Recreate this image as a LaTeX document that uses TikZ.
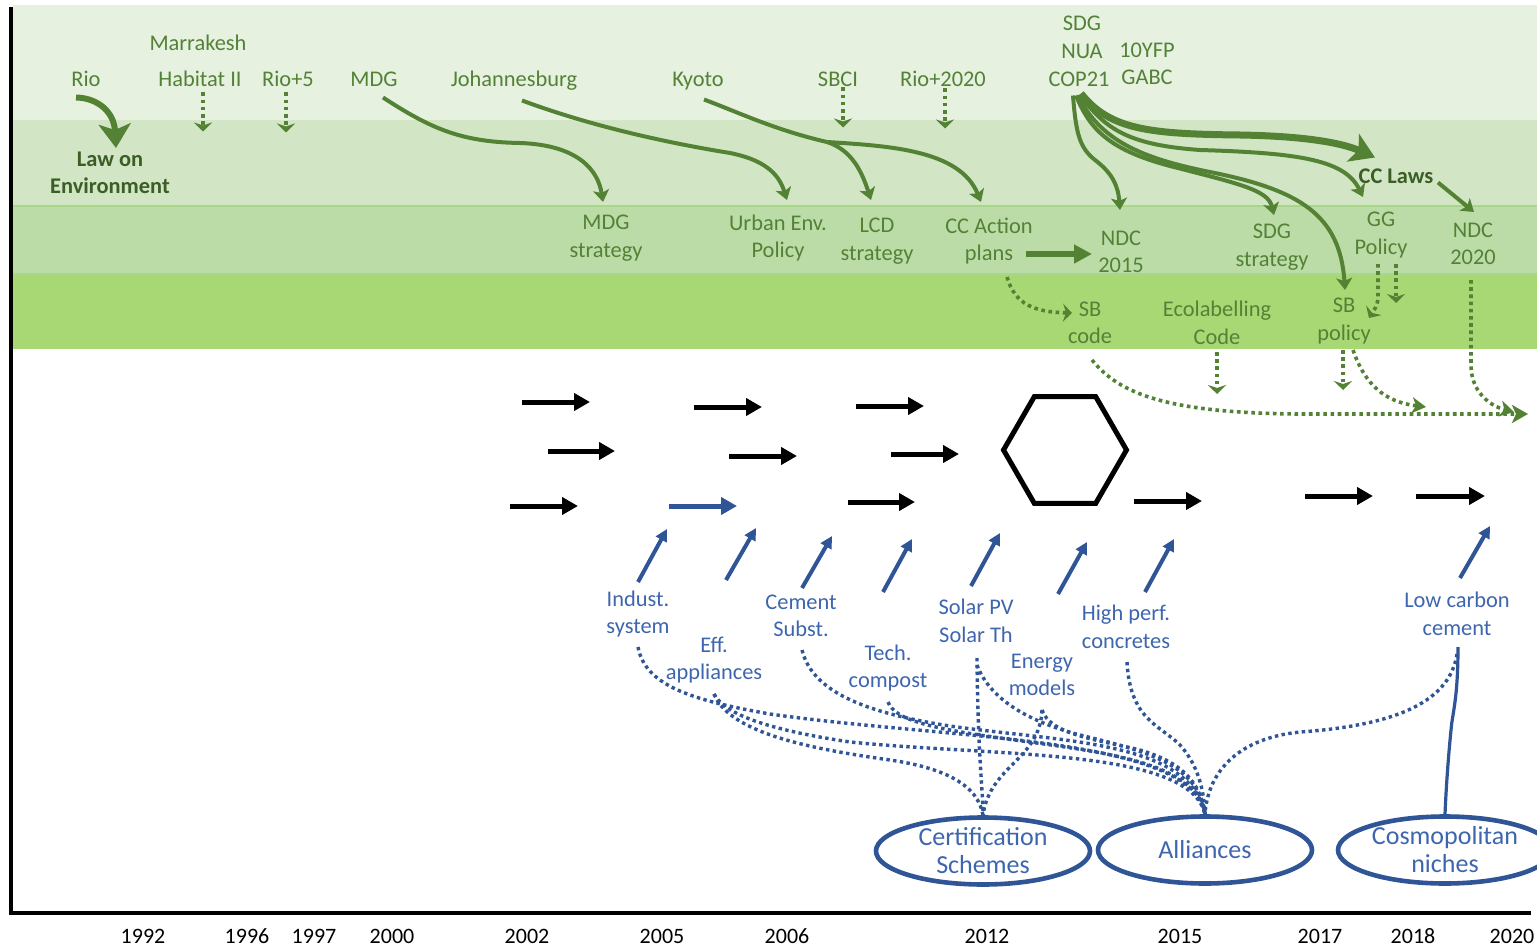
\documentclass[tikz,border=0pt]{standalone}
\usepackage{fontspec}
\setmainfont{Carlito}
\usetikzlibrary{arrows.meta,shapes.geometric,calc}
\definecolor{bandA}{HTML}{E6F1E0}
\definecolor{bandB}{HTML}{D2E6C6}
\definecolor{bandC}{HTML}{BBDBA7}
\definecolor{bandD}{HTML}{A7D874}
\definecolor{bandline}{HTML}{A9D78A}
\definecolor{leaf}{HTML}{548235}
\definecolor{leaftext}{HTML}{538236}
\definecolor{leafdark}{HTML}{3B5E26}
\definecolor{navy}{HTML}{2F5597}
\definecolor{navytext}{HTML}{3E66AE}
\begin{document}
\begin{tikzpicture}[x=0.5pt,y=-0.5pt,
  lbl/.style={font=\fontsize{11.2}{13.75}\selectfont, align=center, inner sep=1pt},
  glbl/.style={lbl, text=leaftext},
  one/.style={text height=0.87em, text depth=0.22em, yshift=-0.75pt},
  gbold/.style={lbl, text=leafdark, font=\fontsize{11.2}{13.75}\selectfont\bfseries},
  blbl/.style={lbl, text=navytext},
  year/.style={font=\fontsize{11}{13}\selectfont, inner sep=0pt},
  flow/.style={draw=leaf, line width=2pt, -{Stealth[length=6pt,width=8pt,inset=1.5pt]}},
  bigflow/.style={draw=leaf, line width=3.5pt, -{Stealth[length=12pt,width=15pt,inset=3pt]}},
  gdot/.style={draw=leaf, line width=1.8pt, dash pattern=on 1.8pt off 1.8pt, -{Stealth[length=4.5pt,width=9pt,inset=1.5pt]}},
  bdot/.style={draw=navy, line width=1.7pt, dash pattern=on 1.7pt off 1.7pt},
  blockarrow/.style={draw=black, line width=2.5pt, -{Triangle[length=8pt,width=8.5pt]}},
  push/.style={draw=navy, line width=2pt, -{Triangle[length=6pt,width=6pt]}},
  niche/.style={ellipse, draw=navy, line width=2.3pt, minimum width=107pt, minimum height=33.5pt, inner sep=0pt},
  nichetext/.style={text=navytext, font=\fontsize{13}{14}\selectfont, align=center, inner sep=0pt},
]
\clip (0,0) rectangle (1537,947);
\fill[white] (0,0) rectangle (1537,947);

% policy levels
\fill[bandA] (13,5) rectangle (1537,120);
\fill[bandB] (13,120) rectangle (1537,206);
\fill[bandC] (13,206) rectangle (1537,274);
\fill[bandD] (13,274) rectangle (1537,349);
\draw[bandline, line width=0.6pt] (13,206) -- (1537,206) (13,274) -- (1537,274);

% time axis
\draw[line width=2.2pt] (11,7) -- (11,913) -- (1531,913);
\foreach \yr/\xx in {1992/143,1996/247,1997/314,2000/392,2002/527,2005/662,2006/787,2012/987,2015/1180,2017/1320,2018/1413,2020/1512}
  \node[year] (y\yr) at (\xx,936) {\yr};

% international events
\node[glbl,one] (rio)   at (86,79)   {Rio};
\node[glbl,one] (marr)  at (198,43)  {Marrakesh};
\node[glbl,one] (hab)   at (200,79)  {Habitat II};
\node[glbl,one] (rio5)  at (288,79)  {Rio+5};
\node[glbl,one] (mdg)   at (374,79)  {MDG};
\node[glbl,one] (joh)   at (514,79)  {Johannesburg};
\node[glbl,one] (kyo)   at (698,79)  {Kyoto};
\node[glbl,one] (sbci)  at (838,79)  {SBCI};
\node[glbl,one] (rio20) at (943,79)  {Rio+2020};
\node[glbl,one] (sdg)   at (1082,23) {SDG};
\node[glbl,one] (nua)   at (1082,51) {NUA};
\node[glbl,one] (cop)   at (1079,79) {COP21};
\node[glbl,one] (yfp)   at (1147,50) {10YFP};
\node[glbl,one] (gabc)  at (1147,77) {GABC};

% national laws
\node[gbold] (law)    at (110,173)  {Law on\\Environment};
\node[gbold,one] (cclaws) at (1396,176) {CC Laws};

% national strategies
\node[glbl] (mdgs)  at (606,238)  {MDG\\strategy};
\node[glbl] (uep)   at (778,238)  {Urban Env.\\Policy};
\node[glbl] (lcd)   at (877,241)  {LCD\\strategy};
\node[glbl] (ccap)  at (989,241)  {CC Action\\plans};
\node[glbl] (ndc15) at (1121,252) {NDC\\2015};
\node[glbl] (sdgs)  at (1272,247) {SDG\\strategy};
\node[glbl] (gg)    at (1381,235) {GG\\Policy};
\node[glbl] (ndc20) at (1473,244) {NDC\\2020};

% sector instruments
\node[glbl] (sbc) at (1090,323) {SB\\code};
\node[glbl] (eco) at (1217,323) {Ecolabelling\\Code};
\node[glbl] (sbp) at (1344,321) {SB\\policy};

% policy transfer
\draw[bigflow, line width=3pt, -{Stealth[length=12pt,width=16pt,inset=3pt]}]
  ($(rio)+(-10,17)$) .. controls (98,98) and (114,112) .. ($(law)+(6,-25)$);
\draw[gdot] ($(hab)+(3,12)$) -- ++(0,39);
\draw[gdot] ($(rio5)+(-2,12)$) -- ++(0,40);
\draw[flow] ($(mdg)+(9,17)$) .. controls (430,128) and (460,142) .. (520,143)
  .. controls (578,145) and (598,170) .. ($(mdgs)+(-3,-36)$);
\draw[flow] ($(joh)+(8,20)$) .. controls (580,122) and (650,140) .. (730,153)
  .. controls (770,161) and (780,178) .. ($(uep)+(9,-38)$);
\coordinate (kfork) at (827,142);
\draw[flow] ($(kyo)+(6,19)$) .. controls (740,113) and (775,130) .. (kfork)
  .. controls (852,150) and (862,172) .. ($(lcd)+(-6,-41)$);
\draw[flow] (kfork) .. controls (890,146) and (960,150) .. ($(ccap)+(-8,-39)$);
\draw[gdot] ($(sbci)+(5,7)$) -- ++(0,40);
\draw[gdot] ($(rio20)+(2,8)$) -- ++(0,40);
\draw[draw=leaf, line width=3pt, -{Triangle[length=9pt,width=9pt]}]
  ($(ccap)+(37,13)$) -- ($(ndc15)+(-29,2)$);

% COP21 bundle
\draw[flow] ($(cop)+(-6,15)$) .. controls (1076,135) and (1080,148) .. (1095,160)
  .. controls (1112,173) and (1118,185) .. ($(ndc15)+(-1,-42)$);
\draw[flow] ($(cop)+(-3,15)$) .. controls (1090,130) and (1110,150) .. (1170,166)
  .. controls (1240,184) and (1268,190) .. ($(sdgs)+(2,-32)$);
\draw[flow] ($(cop)+(-1,15)$) .. controls (1100,140) and (1140,158) .. (1210,172)
  .. controls (1300,190) and (1340,215) .. ($(sbp)+(1,-31)$);
\draw[flow] ($(cop)+(1,14)$) .. controls (1105,130) and (1130,145) .. (1200,150)
  .. controls (1300,153) and (1345,160) .. ($(gg)+(-18,-38)$);
\draw[bigflow] ($(cop)+(2,13)$) .. controls (1110,130) and (1150,134) .. (1240,135)
  .. controls (1300,136) and (1340,142) .. ($(cclaws)+(-21,-20)$);
\draw[flow] ($(cclaws)+(42,5)$) -- ($(ndc20)+(1,-32)$);

% sector-level transfer
\draw[gdot] ($(gg)+(-3,29)$) -- ++(0,32) .. controls ++(0,10) and ++(5,-8) .. ($(sbp)+(25,-3)$);
\draw[gdot] ($(gg)+(15,29)$) -- ++(0,39);
\draw[gdot] ($(ccap)+(18,36)$) .. controls (1015,305) and (1035,312) .. ($(sbc)+(-18,-10)$);
\coordinate (regime) at (1528,414);
\draw[gdot, -{Stealth[length=8pt,width=9pt,inset=2pt]}]
  ($(sbc)+(2,37)$) .. controls (1120,395) and (1170,413) .. (1300,414) -- (regime);
\draw[gdot] ($(eco)+(0,29)$) -- ++(0,42);
\draw[gdot] ($(sbp)+(-1,29)$) -- ++(0,40);
\draw[gdot, -{Stealth[length=7pt,width=8pt,inset=2pt]}]
  ($(sbp)+(9,29)$) .. controls (1365,385) and (1385,402) .. (1426,407);
\draw[gdot, -{Stealth[length=7pt,width=8pt,inset=2pt]}]
  ($(ndc20)+(-2,36)$) -- (1471,365) .. controls (1471,392) and (1490,406) .. (1514,412);

% regime trajectories
\draw[blockarrow] (522,402) -- (590,402);
\draw[blockarrow] (694,407) -- (762,407);
\draw[blockarrow] (856,406) -- (924,406);
\draw[blockarrow] (548,451) -- (615,451);
\draw[blockarrow] (729,456) -- (797,456);
\draw[blockarrow] (891,454) -- (959,454);
\draw[blockarrow] (510,506) -- (578,506);
\draw[blockarrow, draw=navy] (669,506) -- (737,506);
\draw[blockarrow] (848,502) -- (915,502);
\draw[blockarrow] (1134,501) -- (1202,501);
\draw[blockarrow] (1305,496) -- (1373,496);
\draw[blockarrow] (1416,496) -- (1485,496);
\node[regular polygon, regular polygon sides=6, draw, line width=2.5pt, minimum size=61.5pt, inner sep=0pt] (hub) at (1065,450) {};

% niche innovations
\node[blbl] (ind)    at (638,614)  {Indust.\\system};
\node[blbl] (eff)    at (714,660)  {Eff.\\appliances};
\node[blbl] (cem)    at (801,616)  {Cement\\Subst.};
\node[blbl] (tech)   at (888,668)  {Tech.\\compost};
\node[blbl] (solar)  at (976,621)  {Solar PV\\Solar Th};
\node[blbl] (energy) at (1042,675) {Energy\\models};
\node[blbl] (hpc)    at (1126,627) {High perf.\\concretes};
\node[blbl] (lcc)    at (1457,614) {Low carbon\\cement};

\draw[push] ($(ind)+(0,-32)$) -- ++(29,-53);
\draw[push] ($(eff)+(12,-80)$) -- ++(30,-52);
\draw[push] ($(cem)+(1,-28)$) -- ++(30,-52);
\draw[push] ($(tech)+(-5,-76)$) -- ++(29,-53);
\draw[push] ($(solar)+(-5,-35)$) -- ++(29,-53);
\draw[push] ($(energy)+(16,-81)$) -- ++(29,-52);
\draw[push] ($(hpc)+(19,-35)$) -- ++(29,-53);
\draw[push] ($(lcc)+(3,-36)$) -- ++(30,-52);

% intermediary actors
\node[niche] (cert)  at (983,851)  {};
\node[nichetext] (certtext) at (cert) {Certification\\Schemes};
\node[niche] (alli)  at (1205,850) {};
\node[nichetext] (allitext) at (alli) {Alliances};
\node[niche] (cosmo) at (1445,850) {};
\node[nichetext] (cosmotext) at (cosmo) {Cosmopolitan\\niches};

% links between niches and intermediaries
\draw[bdot] ($(ind)+(0,33)$) .. controls (645,685) and (690,700) .. (770,714)
  .. controls (950,740) and (1192,735) .. (alli.north);
\draw[bdot] ($(eff)+(0,34)$) .. controls (725,715) and (770,730) .. (850,742)
  .. controls (1000,757) and (1190,748) .. (alli.north);
\draw[bdot] ($(eff)+(0,34)$) .. controls (730,735) and (820,750) .. (890,760)
  .. controls (945,768) and (978,785) .. (cert.north);
\draw[bdot] ($(cem)+(1,34)$) .. controls (812,690) and (860,712) .. (950,726)
  .. controls (1060,742) and (1190,740) .. (alli.north);
\draw[bdot] ($(tech)+(0,34)$) .. controls (895,720) and (930,728) .. (1000,738)
  .. controls (1100,752) and (1195,760) .. (alli.north);
\draw[bdot] ($(solar)+(1,37)$) .. controls (978,760) and (983,790) .. (cert.north);
\draw[bdot] ($(solar)+(1,44)$) .. controls (990,700) and (1030,722) .. (1080,735)
  .. controls (1150,752) and (1198,765) .. (alli.north);
\draw[bdot] ($(energy)+(0,35)$) .. controls (1040,760) and (990,765) .. (cert.north);
\draw[bdot] ($(energy)+(0,35)$) .. controls (1050,735) and (1100,740) .. (1140,750)
  .. controls (1180,762) and (1200,780) .. (alli.north);
\draw[bdot] ($(hpc)+(1,35)$) .. controls (1130,720) and (1160,725) .. (1180,745)
  .. controls (1198,765) and (1204,790) .. (alli.north);
\draw[bdot] ($(lcc)+(0,40)$) .. controls (1450,700) and (1400,725) .. (1300,732)
  .. controls (1240,738) and (1208,770) .. (alli.north);
\draw[navy, line width=1.6pt] ($(lcc)+(1,33)$) .. controls (1458,700) and (1452,715) .. (1451,730)
  .. controls (1448,760) and (1446,790) .. (cosmo.north);
\end{tikzpicture}
\end{document}
